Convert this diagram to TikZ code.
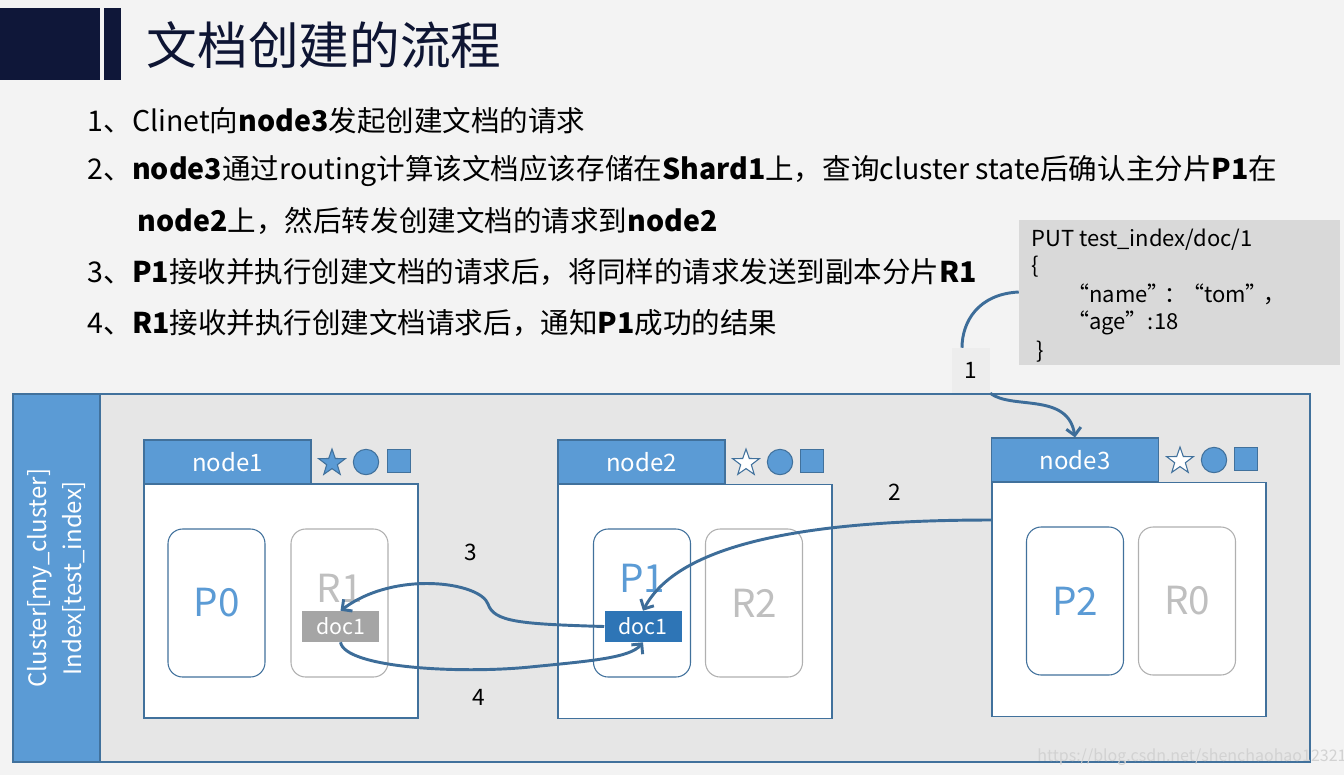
\documentclass[tikz,border=0pt]{standalone}
\usepackage{fontspec}
\setmainfont{Noto Sans CJK SC}
\usetikzlibrary{positioning,shapes.geometric,arrows.meta}

\definecolor{navy}{HTML}{0F1739}
\definecolor{nodeblue}{HTML}{5B9BD5}
\definecolor{edgeblue}{HTML}{41719C}
\definecolor{flowblue}{HTML}{3D6D99}
\definecolor{docblue}{HTML}{2E75B6}
\definecolor{docgrey}{HTML}{A5A5A5}
\definecolor{replicagrey}{HTML}{B0B0B0}
\definecolor{replicatext}{HTML}{BFBFBF}
\definecolor{clusterfill}{HTML}{E6E6E6}
\definecolor{codefill}{HTML}{D9D9D9}
\definecolor{pagefill}{HTML}{F3F3F3}

\newcommand{\fs}[1]{\fontsize{#1}{#1}\selectfont}

\begin{document}
\begin{tikzpicture}[x=0.75pt, y=-0.75pt,
    server/.style = {draw=edgeblue, fill=white, line width=0.8pt, minimum width=205.5pt, minimum height=175.5pt},
    header/.style = {draw=edgeblue, fill=nodeblue, line width=0.8pt, text=white, font=\fs{18}, minimum width=125.25pt, minimum height=33pt},
    primary/.style = {draw=edgeblue, fill=white, line width=0.8pt, rounded corners=11pt, minimum width=72.75pt, minimum height=111pt},
    replica/.style = {primary, draw=replicagrey},
    ptext/.style = {text=nodeblue, font=\fs{29}},
    rtext/.style = {text=replicatext, font=\fs{29}},
    doc/.style = {fill=docblue, text=white, inner sep=0pt, minimum width=57.75pt, minimum height=23.25pt, font=\fs{16}},
    staricon/.style = {star, star points=5, star point ratio=2.5, draw=edgeblue, line width=0.8pt, inner sep=0pt, minimum size=21pt},
    dot/.style = {circle, draw=edgeblue, fill=nodeblue, line width=0.8pt, inner sep=0pt, minimum size=19pt},
    sq/.style = {rectangle, draw=edgeblue, fill=nodeblue, line width=0.8pt, inner sep=0pt, minimum size=17.5pt},
    flow/.style = {draw=flowblue, line width=2.2pt, -{Straight Barb[length=5.5pt,width=11pt]}},
    numlabel/.style = {font=\fs{17}},
    line/.style = {anchor=west, font=\fs{21.4}}]

  % page
  \fill[pagefill] (0,0) rectangle (1344,775);
  \useasboundingbox (0,0) rectangle (1344,775);

  % title
  \fill[navy] (0,8) rectangle (100,80);
  \fill[navy] (104,8) rectangle (121,80);
  \node[anchor=west, text=navy!90!black, font=\fs{38}] (title) at (142,45) {文档创建的流程};

  % steps
  \node[line] (s1) at (83,121) {1、Clinet向\textbf{node3}发起创建文档的请求};
  \node[line] (s2) at (83,171) {2、\textbf{node3}通过routing计算该文档应该存储在\textbf{Shard1}上，查询cluster state后确认主分片\textbf{P1}在};
  \node[line] (s2b) at (133,221) {\textbf{node2}上，然后转发创建文档的请求到\textbf{node2}};
  \node[line] (s3) at (83,272) {3、\textbf{P1}接收并执行创建文档的请求后，将同样的请求发送到副本分片\textbf{R1}};
  \node[line] (s4) at (83,323) {4、\textbf{R1}接收并执行创建文档请求后，通知\textbf{P1}成功的结果};

  % request
  \node[fill=codefill, minimum width=240.75pt, minimum height=108.75pt] (code) at (1179.5,292.5) {};
  \node[anchor=north west, align=left, font=\fs{16.5}, inner sep=0pt] (codetext) at (1031,229)
    {PUT test\_index/doc/1\\[3.7pt]
     \{\\[3.7pt]
     \hspace*{27pt}“name”\hspace{-4pt}：\hspace{-3pt}“tom”\hspace{-3pt}，\\[3.7pt]
     \hspace*{27pt}“age”:18\\[3.7pt]
     \hspace*{4pt}\}};

  % cluster
  \node[draw=edgeblue, fill=clusterfill, line width=0.8pt, minimum width=972.75pt, minimum height=276pt] (cluster) at (661.5,578) {};
  \node[draw=edgeblue, fill=nodeblue, line width=0.8pt, minimum width=65.25pt, minimum height=276pt] (band) at (56.5,578) {};
  \node[rotate=90, align=center, text=white, font=\fs{18}] (clname) at (band)
    {Cluster[my\_cluster]\\[6pt]Index[test\_index]};

  % node1
  \node[server] (n1) at (281,601) {};
  \node[header] (n1head) at (227.5,462) {node1};
  \node[staricon, fill=nodeblue] (n1star) at (332,463) {};
  \node[dot] (n1dot) at (366,462) {};
  \node[sq] (n1sq) at (399,461) {};
  \node[primary] (p0) at (216.5,603) {};
  \node[ptext] at (p0) {P0};
  \node[replica] (r1) at (339.5,603) {};
  \node[rtext] at (339.5,588) {R1};
  \node[doc, fill=docgrey] (r1doc) at (340.5,626.5) {doc1};

  % node2
  \node[server] (n2) at (695,601.5) {};
  \node[header] (n2head) at (641.5,462) {node2};
  \node[staricon, fill=white] (n2star) at (746,463) {};
  \node[dot] (n2dot) at (780,462) {};
  \node[sq] (n2sq) at (812,461) {};
  \node[primary] (p1) at (642,603) {};
  \node[ptext] at (642,578) {P1};
  \node[replica] (r2) at (754,603) {};
  \node[rtext] at (r2) {R2};
  \node[doc] (p1doc) at (643,626.5) {doc1};

  % node3
  \node[server] (n3) at (1129,599.5) {};
  \node[header] (n3head) at (1075,460) {node3};
  \node[staricon, fill=white] (n3star) at (1180,461) {};
  \node[dot] (n3dot) at (1214,460) {};
  \node[sq] (n3sq) at (1246,459) {};
  \node[primary] (p2) at (1075,601) {};
  \node[ptext] at (p2) {P2};
  \node[replica] (r0) at (1187,601) {};
  \node[rtext] at (r0) {R0};

  % flows
  \node[fill=clusterfill!70!white, minimum width=28.5pt, minimum height=33.75pt, font=\fs{17}] (lbl1) at (971,370.5) {1};
  \draw[draw=flowblue, line width=2.2pt] (code.west |- 0,292) .. controls (978,294) and (962,322) .. (lbl1.north -| 962,0);
  \draw[flow] (lbl1.south east) .. controls (1012,410) and (1068,392) .. (n3head.north);
  \draw[flow] (n3.west |- 0,520) .. controls (820,520) and (680,540) .. (p1doc.north);
  \draw[flow] (p1doc.west) .. controls (520,624) and (494,622) .. (488,604) .. controls (480,582) and (395,570) .. (r1doc.north);
  \draw[flow] (r1doc.south) .. controls (345,668) and (460,674) .. (530,667) .. controls (590,661) and (630,658) .. (p1doc.south);
  \node[numlabel] (lbl2) at (895,492) {2};
  \node[numlabel] (lbl3) at (471,552) {3};
  \node[numlabel] (lbl4) at (479,697) {4};

  % watermark
  \node[text=gray!35, font=\fs{12}] (mark) at (1192,757) {https://blog.csdn.net/shenchaohao12321};
\end{tikzpicture}
\end{document}
